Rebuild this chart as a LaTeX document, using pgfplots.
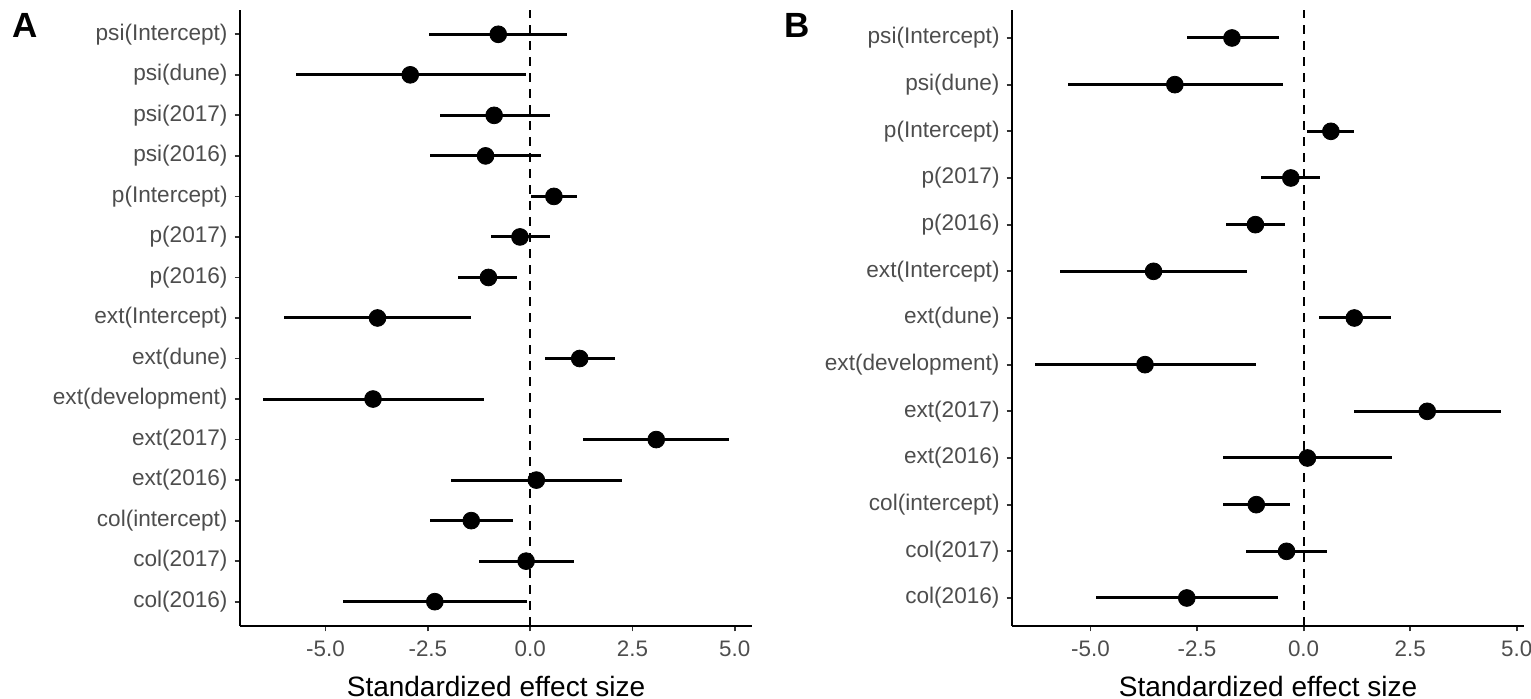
\documentclass[border=0pt]{standalone}
\usepackage{pgfplots}
\usepackage{pgfplotstable}
\pgfplotsset{compat=1.18}
\usepackage{fontspec}
\setmainfont{Liberation Sans}
\definecolor{tickgray}{HTML}{4D4D4D}

% y: row position (top row has largest y), est, lo, hi
\pgfplotstableread{
y est lo hi
15 -0.78 -2.47 0.90
14 -2.93 -5.72 -0.11
13 -0.88 -2.21 0.49
12 -1.09 -2.45 0.26
11 0.58 0.02 1.15
10 -0.25 -0.95 0.49
9 -1.02 -1.76 -0.31
8 -3.73 -6.02 -1.44
7 1.21 0.36 2.07
6 -3.84 -6.52 -1.14
5 3.08 1.30 4.86
4 0.15 -1.93 2.24
3 -1.44 -2.45 -0.42
2 -0.10 -1.26 1.06
1 -2.33 -4.57 -0.07
}\dataA

\pgfplotstableread{
y est lo hi
13 -1.68 -2.74 -0.58
12 -3.02 -5.52 -0.48
11 0.64 0.09 1.18
10 -0.30 -0.99 0.39
9 -1.13 -1.82 -0.44
8 -3.52 -5.72 -1.33
7 1.19 0.36 2.04
6 -3.72 -6.29 -1.11
5 2.90 1.18 4.63
4 0.09 -1.88 2.07
3 -1.11 -1.90 -0.32
2 -0.40 -1.36 0.56
1 -2.74 -4.86 -0.61
}\dataB

\pgfplotsset{
  forest/.style={
    scale only axis,
    width=256pt, height=308pt,
    axis lines*=left,
    axis line style={-, line width=1.1pt, black},
    tick align=outside,
    major tick length=2.7pt,
    every tick/.style={line width=0.9pt, color=black!80},
    xtick={-5,-2.5,0,2.5,5},
    xticklabels={-5.0,-2.5,0.0,2.5,5.0},
    ytick={1,...,15},
    tick label style={font=\fontsize{11.2}{13}\selectfont, color=tickgray},
    xticklabel style={yshift=-1pt},
    yticklabel style={font=\fontsize{11.3}{13}\selectfont},
    xlabel={Standardized effect size},
    xlabel style={font=\fontsize{14}{16}\selectfont, at={(axis description cs:0.5,0)}, anchor=center, yshift=-30pt},
    clip=false,
  },
  ebar/.style={only marks, mark=*, mark size=4.2pt, black,
    error bars/.cd, x dir=both, x explicit, error mark=none,
    error bar style={line width=1.5pt, black}},
  zeroline/.style={black, line width=1pt, dash pattern=on 4.5pt off 3.5pt},
}

\begin{document}
\begin{tikzpicture}
\useasboundingbox (0pt,0pt) rectangle (765.5pt,349.5pt);

\begin{axis}[forest, at={(120pt,36.5pt)}, anchor=south west,
  xmin=-7.09, xmax=5.42, ymin=0.4, ymax=15.6,
  yticklabels={col(2016),col(2017),col(intercept),ext(2016),ext(2017),ext(development),ext(dune),ext(Intercept),p(2016),p(2017),p(Intercept),psi(2016),psi(2017),psi(dune),psi(Intercept)}]
\addplot[zeroline] coordinates {(0,0.4) (0,15.6)};
\addplot[ebar] table[x=est, y=y,
  x error plus expr=\thisrow{hi}-\thisrow{est},
  x error minus expr=\thisrow{est}-\thisrow{lo}] {\dataA};
\end{axis}

\begin{axis}[forest, at={(506pt,36.5pt)}, anchor=south west,
  xmin=-6.84, xmax=5.17, ymin=0.4, ymax=13.6, ytick={1,...,13},
  yticklabels={col(2016),col(2017),col(intercept),ext(2016),ext(2017),ext(development),ext(dune),ext(Intercept),p(2016),p(2017),p(Intercept),psi(dune),psi(Intercept)}]
\addplot[zeroline] coordinates {(0,0.4) (0,13.6)};
\addplot[ebar] table[x=est, y=y,
  x error plus expr=\thisrow{hi}-\thisrow{est},
  x error minus expr=\thisrow{est}-\thisrow{lo}] {\dataB};
\end{axis}

\node[font=\fontsize{17.5}{19}\selectfont\bfseries] at (12.5pt,337pt) {A};
\node[font=\fontsize{17.5}{19}\selectfont\bfseries] at (398.5pt,337pt) {B};
\end{tikzpicture}
\end{document}
